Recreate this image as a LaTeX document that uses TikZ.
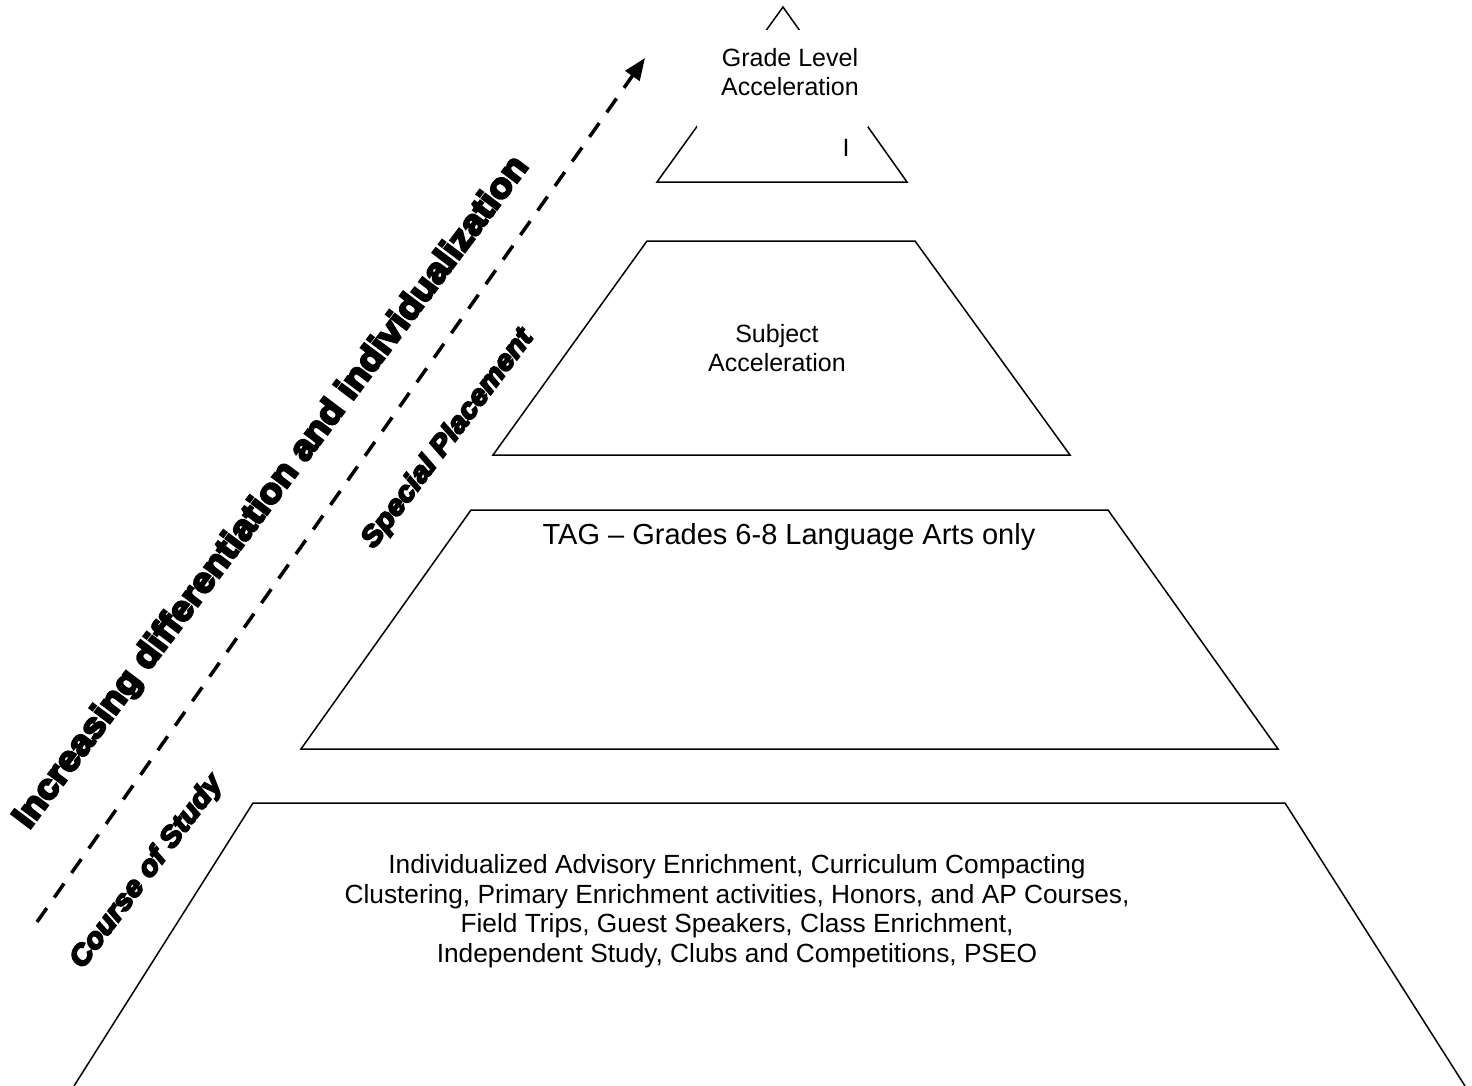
\documentclass[tikz,border=0pt]{standalone}
\usepackage{fontspec}
\setmainfont{Liberation Sans}
\newfontfamily\heavyfont{Liberation Sans Bold}[FakeBold=7,FakeStretch=1.08]
\newfontfamily\heavyitfont{Liberation Sans Bold Italic}[FakeBold=7,FakeStretch=1.08]
\usetikzlibrary{arrows.meta}

\tikzset{
  level/.style={line width=0.75pt},
  lbl/.style={align=center,font=\fontsize{12.5}{14.5}\selectfont},
  side/.style={rotate=53,font=\heavyitfont\fontsize{14}{16}\selectfont}
}

\begin{document}
\begin{tikzpicture}[x=0.5pt,y=-0.5pt]
\useasboundingbox (0,0) rectangle (1472,1086);
% top level
\draw[level] (783,7) -- (657,182) -- (907,182) -- cycle;
\fill[white] (697,30) rectangle (868,127);
\node[lbl] (grade) at (790,72) {Grade Level\\Acceleration};
\node[lbl] (mark) at (846,148) {I};
% second level
\draw[level] (647,241) -- (915,241) -- (1070,455) -- (493,455) -- cycle;
\node[lbl] (subject) at (777,348) {Subject\\Acceleration};
% third level
\draw[level] (471,510) -- (1108,510) -- (1278,749) -- (301,749) -- cycle;
\node[lbl,font=\fontsize{14.5}{17}\selectfont] (tag) at (789,537) {TAG -- Grades 6-8 Language Arts only};
% bottom level
\draw[level] (74,1086) -- (253,803) -- (1285,803) -- (1465,1086);
\node[lbl,font=\fontsize{13.15}{14.75}\selectfont] (course) at (737,911) {Individualized Advisory Enrichment, Curriculum Compacting\\Clustering, Primary Enrichment activities, Honors, and AP Courses,\\Field Trips, Guest Speakers, Class Enrichment,\\Independent Study, Clubs and Competitions, PSEO};
% side arrow and labels
\coordinate (low) at (37,922);
\coordinate (high) at (645,58);
\draw[line width=1.75pt,dash pattern=on 8.5pt off 6.5pt,-{Triangle[length=11pt,width=8.5pt]}] (low) -- (high);
\node[side,font=\heavyfont\fontsize{17.4}{19}\selectfont] (increase) at (272,493) {Increasing differentiation and individualization};
\node[side] (special) at (448,439) {Special Placement};
\node[side] (study) at (147,872) {Course of Study};
\end{tikzpicture}
\end{document}
